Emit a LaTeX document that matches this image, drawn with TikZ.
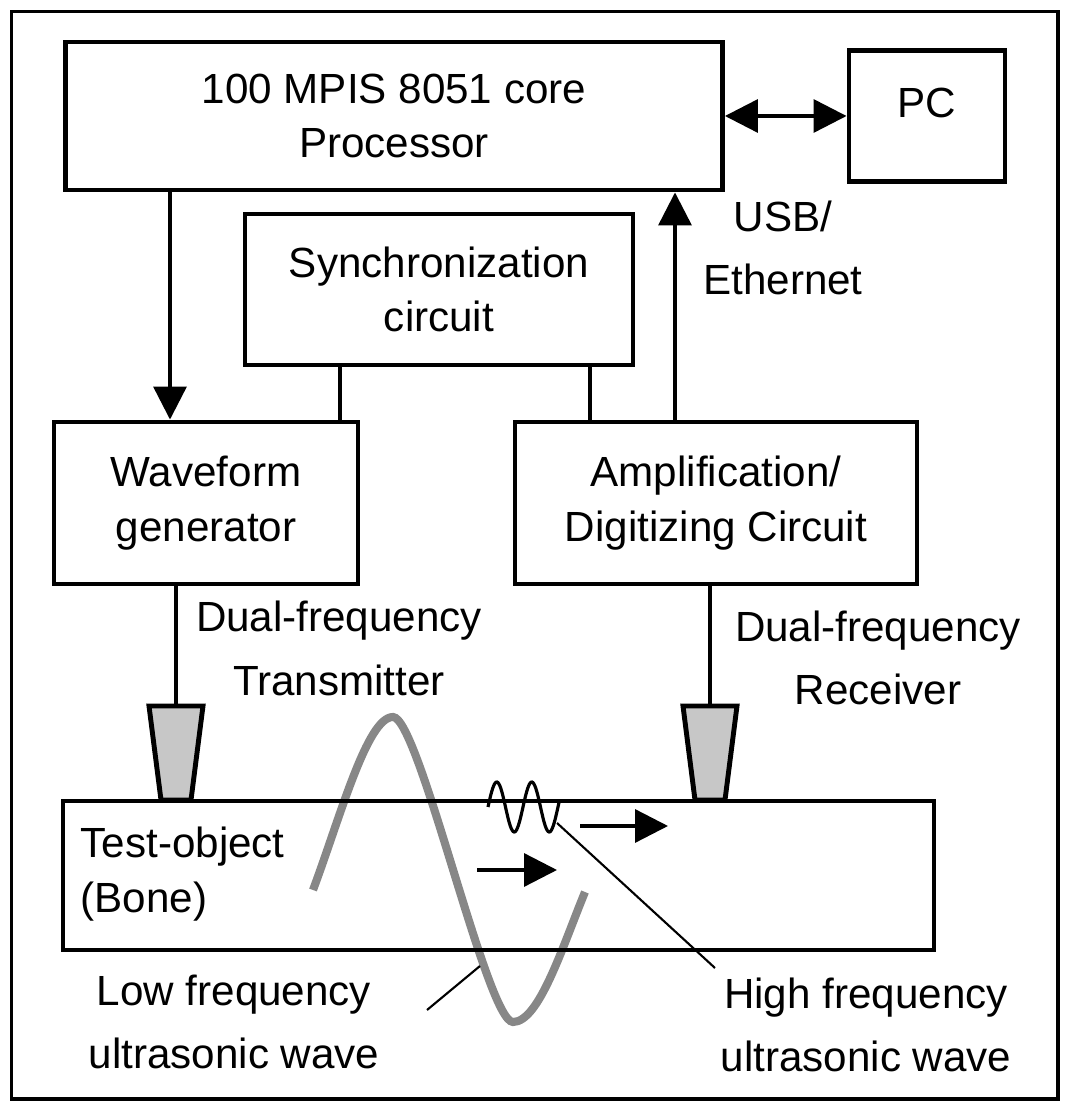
\documentclass[tikz,border=0pt]{standalone}
\usepackage{fontspec}
\setmainfont{Liberation Sans}
\usepackage{tikz}
\usetikzlibrary{arrows.meta,backgrounds,calc}

\begin{document}
\begin{tikzpicture}[
  blk/.style={draw,line width=1.4pt,inner sep=0pt,align=center,font=\fontsize{12}{15.6}\selectfont},
  lbl/.style={inner sep=0pt,align=center,font=\fontsize{12}{18}\selectfont},
  conn/.style={line width=0.95pt},
  arr/.style={conn,-{Triangle[length=3.3mm,width=3.3mm]}},
  dblarr/.style={conn,{Triangle[length=3.3mm,width=3.3mm]}-{Triangle[length=3.3mm,width=3.3mm]}},
  probe/.style={draw,line width=1.4pt,fill=black!22},
  lfwave/.style={line width=2.3pt,black!47},
  hfwave/.style={line width=0.9pt},
  leader/.style={line width=0.6pt},
]
  \useasboundingbox (0,0) rectangle (10.64,11.02);
  \draw[line width=0.95pt] (0.115,0.03) rectangle (10.58,10.905);
  % blocks
  \node[blk,minimum width=6.57cm,minimum height=1.48cm] (proc) at (3.94,9.86) {100 MPIS 8051 core\\Processor};
  \node[blk,minimum width=1.56cm,minimum height=1.31cm,text depth=2.6mm] (pc) at (9.27,9.86) {PC};
  \node[blk,minimum width=3.88cm,minimum height=1.51cm] (sync) at (4.39,8.125) {Synchronization\\circuit};
  \node[blk,minimum width=3.04cm,minimum height=1.62cm] (wave) at (2.06,5.99) {Waveform\\generator};
  \node[blk,minimum width=4.02cm,minimum height=1.62cm] (amp) at (7.16,5.99) {Amplification/\\Digitizing Circuit};
  % low frequency wave behind the test object
  \begin{scope}[on background layer]
    \draw[lfwave] (3.13,2.12) .. controls (3.40,2.84) and (3.67,3.85) .. (3.93,3.85)
      .. controls (4.19,3.85) and (4.87,0.80) .. (5.13,0.80)
      .. controls (5.39,0.80) and (5.62,1.54) .. (5.85,2.10);
  \end{scope}
  \node[blk,minimum width=8.71cm,minimum height=1.49cm] (test) at (4.985,2.265) {};
  \node[lbl,align=left,anchor=west,font=\fontsize{12}{15.6}\selectfont] (testlbl) at (0.80,2.275) {Test-object\\(Bone)};
  % transducers
  \draw[probe] (1.49,3.96) -- (2.03,3.96) -- (1.91,3.02) -- (1.61,3.02) -- cycle;
  \coordinate (tx) at (1.76,3.96);
  \draw[probe] (6.83,3.96) -- (7.37,3.96) -- (7.25,3.02) -- (6.95,3.02) -- cycle;
  \coordinate (rx) at (7.10,3.96);
  % connections
  \draw[dblarr] (proc.east) -- (pc.west);
  \draw[arr] ([xshift=-3.6mm]wave.north |- proc.south) -- ([xshift=-3.6mm]wave.north);
  \draw[conn] ([xshift=-9.9mm]sync.south) -- ([xshift=-9.9mm]sync.south |- wave.north);
  \draw[conn] ([xshift=15.1mm]sync.south) -- ([xshift=15.1mm]sync.south |- amp.north);
  \draw[arr] ([xshift=-4.1mm]amp.north) -- ([xshift=-4.1mm]amp.north |- proc.south);
  \draw[conn] (tx) -- (tx |- wave.south);
  \draw[conn] (rx) -- (rx |- amp.south);
  \node[lbl] (usb) at (7.83,8.54) {USB/\\Ethernet};
  \node[lbl] (txlbl) at (3.39,4.535) {Dual-frequency\\Transmitter};
  \node[lbl] (rxlbl) at (8.78,4.44) {Dual-frequency\\Receiver};
  % high frequency wave and propagation arrows
  \draw[hfwave] plot[domain=0:0.71,samples=80,smooth] ({4.88+\x},{2.95+0.25*sin(\x/0.35*360)});
  \draw[arr] (5.80,2.76) -- (6.68,2.76);
  \draw[arr] (4.77,2.32) -- (5.57,2.32);
  % wave labels
  \node[lbl] (lflbl) at (2.34,0.80) {Low frequency\\ultrasonic wave};
  \node[lbl] (hflbl) at (8.66,0.77) {High frequency\\ultrasonic wave};
  \coordinate (lfpt) at (4.80,1.36);
  \coordinate (lfend) at (4.27,0.92);
  \coordinate (hfpt) at (5.57,2.79);
  \coordinate (hfend) at (7.15,1.34);
  \draw[leader] (lfpt) -- (lfend);
  \draw[leader] (hfpt) -- (hfend);
\end{tikzpicture}
\end{document}
